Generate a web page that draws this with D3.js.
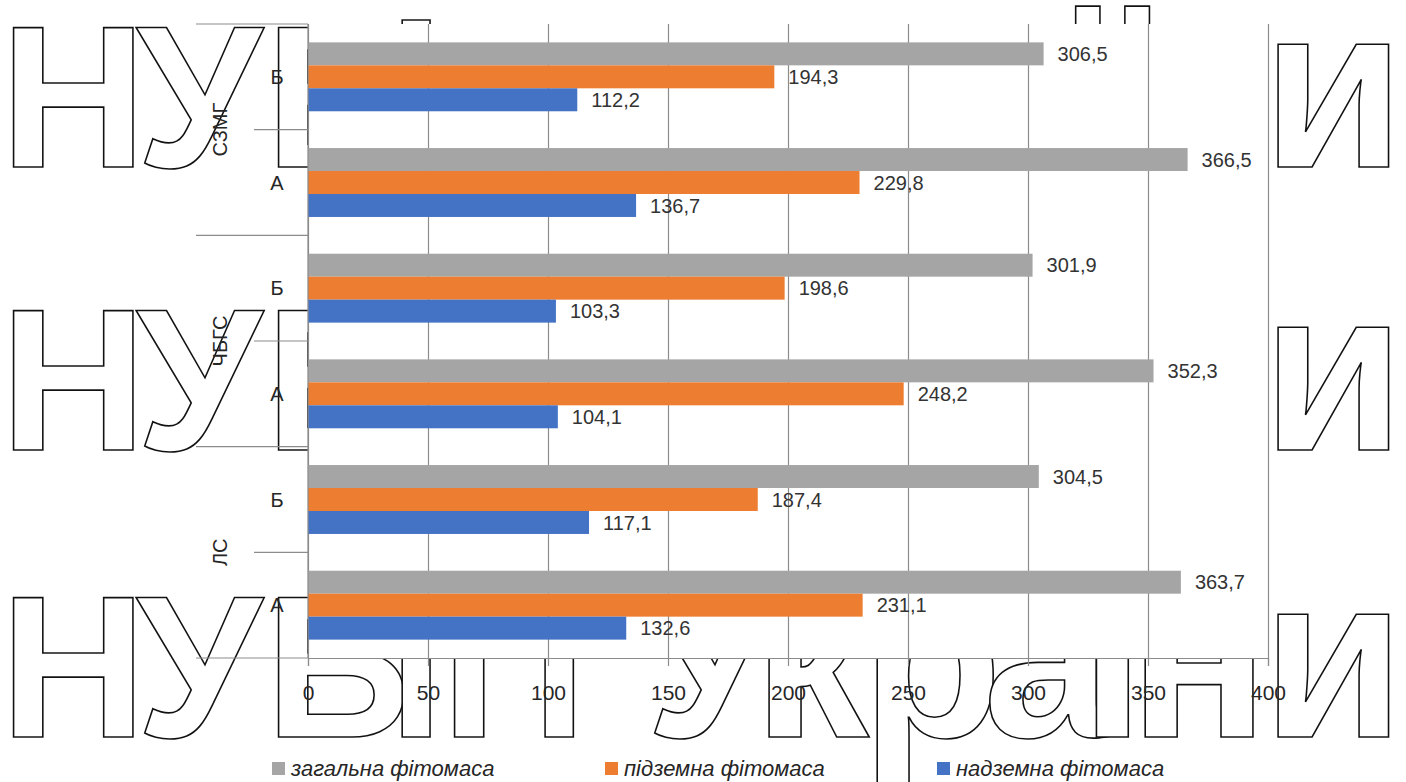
<!DOCTYPE html>
<html>
<head>
<meta charset="utf-8">
<script src="https://cdn.jsdelivr.net/npm/d3@7"></script>
<style>
  body { margin: 0; background: #ffffff; }
  svg { display: block; }
</style>
</head>
<body>
<svg id="chart" width="1406" height="782"></svg>
<script>
// ---------------- data ----------------
const groups = ["СЗМГ", "ЧБГС", "ЛС"];
const categories = ["Б", "А", "Б", "А", "Б", "А"];
const seriesNames = ["загальна фітомаса", "підземна фітомаса", "надземна фітомаса"];
const totalMass = [306.5, 366.5, 301.9, 352.3, 304.5, 363.7];
const belowMass = [194.3, 229.8, 198.6, 248.2, 187.4, 231.1];
const aboveMass = [112.2, 136.7, 103.3, 104.1, 117.1, 132.6];
const xTicks = [0, 50, 100, 150, 200, 250, 300, 350, 400];
const watermarkUpper = "НУБіП У";
const watermarkLower = "країни";

// ---------------- layout ----------------
const plot = { left: 308, right: 1268, top: 24, bottom: 658 };
const colors = ["#a5a5a5", "#ed7d31", "#4472c4"];
const labelFont = "'Liberation Sans', Arial, sans-serif";

const svg = d3.select("#chart");

// ---------------- watermark (behind the plot) ----------------
const wmRows = [167, 450, 737];              // baselines
const wmUpperX = [0, 136, 265, 388, 441, 560, 646];
const wmLowerX = [753, 861, 983, 1080, 1129, 1262];
const wm = svg.append("g");
wmRows.forEach(b => {
  const t = wm.append("text")
    .attr("y", b)
    .attr("font-family", labelFont)
    .attr("font-weight", "bold")
    .attr("fill", "#ffffff")
    .attr("stroke", "#111")
    .attr("stroke-width", 1.6);
  t.append("tspan").attr("x", wmUpperX.join(" ")).attr("y", b).attr("font-size", 203).text(watermarkUpper);
  t.append("tspan").attr("x", wmLowerX.join(" ")).attr("y", b).attr("font-size", 232).text(watermarkLower);
});

// ---------------- scales ----------------
const x = d3.scaleLinear().domain([0, 400]).range([plot.left, plot.right]);
const y = d3.scaleBand().domain(d3.range(categories.length)).range([plot.top, plot.bottom]).padding(0);
const ys = d3.scaleBand().domain(d3.range(3)).range([0, y.bandwidth()]).paddingInner(0).paddingOuter(0.8);

// plot background hides watermark
svg.append("rect")
  .attr("x", plot.left).attr("y", plot.top)
  .attr("width", plot.right - plot.left).attr("height", plot.bottom - plot.top)
  .attr("fill", "#ffffff");

// gridlines + tick marks
const gx = svg.append("g").attr("transform", `translate(0,${plot.bottom})`)
  .call(d3.axisBottom(x).tickValues(xTicks).tickSize(8).tickFormat(d => d).tickPadding(19));
gx.select(".domain").attr("stroke", "#8c8c8c").attr("stroke-width", 1.2);
gx.selectAll(".tick line").attr("stroke", "#8c8c8c").attr("stroke-width", 1.2)
  .attr("y1", -(plot.bottom - plot.top));
gx.selectAll(".tick text")
  .attr("font-family", labelFont).attr("font-size", 21).attr("fill", "#262626");

// bars
const series = [totalMass, belowMass, aboveMass];
series.forEach((vals, si) => {
  const g = svg.append("g");
  g.selectAll("rect").data(vals).join("rect")
    .attr("x", x(0))
    .attr("y", (d, i) => y(i) + ys(si))
    .attr("width", d => x(d) - x(0))
    .attr("height", ys.bandwidth())
    .attr("fill", colors[si]);
  g.selectAll("text").data(vals).join("text")
    .attr("x", d => x(d) + 14)
    .attr("y", (d, i) => y(i) + ys(si) + ys.bandwidth() / 2)
    .attr("dy", "0.36em")
    .attr("font-family", labelFont)
    .attr("font-size", 20)
    .attr("fill", "#333")
    .text(d => d3.format(".1f")(d).replace(".", ","));
});

// category axis line
svg.append("line")
  .attr("x1", plot.left).attr("x2", plot.left)
  .attr("y1", plot.top).attr("y2", plot.bottom)
  .attr("stroke", "#8c8c8c").attr("stroke-width", 1.2);

// multi-level category ticks
const perGroup = categories.length / groups.length;
d3.range(categories.length + 1).forEach(i => {
  const yy = i < categories.length ? y(i) : plot.bottom;
  const isGroup = i % perGroup === 0;
  svg.append("line")
    .attr("x1", isGroup ? 196 : 254).attr("x2", plot.left)
    .attr("y1", yy).attr("y2", yy)
    .attr("stroke", "#8c8c8c").attr("stroke-width", 1.2);
});

// category labels
svg.append("g").selectAll("text").data(categories).join("text")
  .attr("x", 277)
  .attr("y", (d, i) => y(i) + y.bandwidth() / 2)
  .attr("dy", "0.36em")
  .attr("text-anchor", "middle")
  .attr("font-family", labelFont)
  .attr("font-size", 20)
  .attr("fill", "#262626")
  .text(d => d);

// group labels
svg.append("g").selectAll("text").data(groups).join("text")
  .attr("transform", (d, i) => {
    const cy = (y(i * perGroup) + y(i * perGroup + perGroup - 1) + y.bandwidth()) / 2;
    return `translate(220,${cy}) rotate(-90)`;
  })
  .attr("dy", "0.36em")
  .attr("text-anchor", "middle")
  .attr("font-family", labelFont)
  .attr("font-size", 20)
  .attr("fill", "#262626")
  .text(d => d);

// legend
const legendX = [272, 605, 937];
const lg = svg.append("g");
seriesNames.forEach((name, i) => {
  lg.append("rect").attr("x", legendX[i]).attr("y", 762).attr("width", 13).attr("height", 13)
    .attr("fill", colors[i]);
  lg.append("text").attr("x", legendX[i] + 19).attr("y", 776)
    .attr("font-family", labelFont).attr("font-style", "italic").attr("font-size", 22)
    .attr("fill", "#262626").text(name);
});
</script>
</body>
</html>
